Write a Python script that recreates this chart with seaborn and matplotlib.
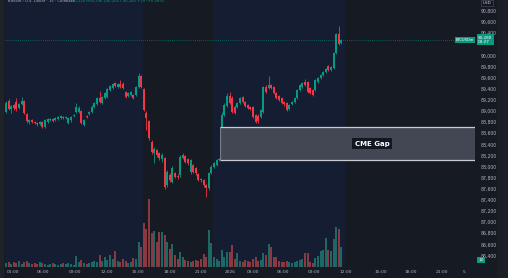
import numpy as np
import pandas as pd
import matplotlib
matplotlib.use("Agg")
import matplotlib.pyplot as plt
import matplotlib.transforms as mtransforms
from matplotlib.patches import Rectangle
import seaborn as sns

# ---------------- data (15-minute BTC candles) ----------------
open_ = [88982, 89180, 89036, 89108, 89162, 89054, 89126, 89180, 88946, 88802,
         88838, 88802, 88784, 88766, 88802, 88712, 88802, 88838, 88856, 88838,
         88856, 88874, 88892, 88874, 88784, 88838, 88910, 88982, 88982, 89000,
         88748, 88910, 88946, 88982, 89072, 89126, 89234, 89144, 89234, 89252,
         89378, 89414, 89504, 89432, 89486, 89486, 89342, 89270, 89288, 89288,
         89288, 89432, 89630, 89396, 88964, 88820, 88442, 88244, 88298, 88244,
         88136, 88154, 87668, 87848, 87722, 87884, 87830, 87848, 88154, 88190,
         88136, 87902, 88028, 87974, 87866, 87776, 87758, 87668, 87614, 87884,
         87992, 88028, 88118, 88118, 88928, 89090, 89270, 89234, 89072, 89072,
         89144, 89252, 89162, 89108, 89072, 89072, 88928, 88910, 88892, 88982,
         89432, 89414, 89468, 89432, 89324, 89270, 89234, 89162, 89144, 89036,
         89126, 89162, 89234, 89378, 89432, 89522, 89522, 89414, 89378, 89378,
         89522, 89594, 89648, 89702, 89810, 89738, 89774, 90044, 90386, 90224]
close = [89144, 89036, 89090, 89054, 89036, 89126, 89180, 88964, 88820, 88838,
         88802, 88784, 88766, 88802, 88712, 88838, 88856, 88856, 88820, 88874,
         88892, 88910, 88874, 88892, 88874, 88892, 88928, 89072, 89054, 88784,
         88838, 88892, 88982, 89072, 89144, 89234, 89162, 89252, 89324, 89396,
         89450, 89486, 89450, 89486, 89432, 89414, 89252, 89324, 89342, 89234,
         89432, 89630, 89432, 89018, 88874, 88514, 88262, 88316, 88208, 88154,
         88208, 87632, 87902, 87758, 87974, 87812, 87812, 88172, 88208, 88082,
         88064, 88118, 87902, 87884, 87758, 87758, 87668, 87614, 87884, 87992,
         88064, 88118, 88136, 88928, 89108, 89270, 89144, 88982, 88964, 89144,
         89234, 89162, 89090, 89054, 89036, 88892, 88802, 88820, 89018, 89432,
         89342, 89468, 89414, 89324, 89234, 89198, 89144, 89126, 89018, 89108,
         89162, 89234, 89378, 89468, 89504, 89468, 89342, 89324, 89288, 89558,
         89594, 89648, 89702, 89756, 89738, 89792, 90044, 90386, 90206, 90280]
high = [89180, 89216, 89108, 89126, 89234, 89144, 89252, 89198, 88964, 88856,
        88856, 88820, 88802, 88820, 88820, 88856, 88874, 88874, 88874, 88892,
        88910, 88928, 88910, 88910, 88892, 88910, 88946, 89144, 89090, 89018,
        88856, 88928, 89000, 89108, 89162, 89252, 89360, 89270, 89342, 89414,
        89468, 89504, 89522, 89504, 89558, 89522, 89360, 89342, 89360, 89306,
        89450, 89684, 89648, 89414, 89000, 88838, 88478, 88352, 88316, 88262,
        88244, 88172, 87938, 87884, 88010, 87902, 87866, 88208, 88244, 88208,
        88154, 88136, 88046, 87992, 87884, 87794, 87776, 87686, 87902, 88028,
        88082, 88136, 88154, 88982, 89144, 89324, 89342, 89270, 89108, 89162,
        89252, 89270, 89180, 89126, 89090, 89090, 88946, 88946, 89036, 89450,
        89468, 89630, 89486, 89450, 89342, 89288, 89252, 89180, 89162, 89126,
        89180, 89252, 89396, 89486, 89522, 89576, 89540, 89432, 89396, 89576,
        89612, 89666, 89720, 89774, 89828, 89810, 90062, 90404, 90530, 90296]
low = [88964, 89018, 88964, 89018, 89000, 89036, 89108, 88946, 88784, 88766,
       88784, 88766, 88730, 88748, 88694, 88694, 88784, 88820, 88802, 88820,
       88838, 88856, 88856, 88856, 88766, 88802, 88900, 88964, 88964, 88766,
       88730, 88874, 88928, 88964, 89054, 89108, 89144, 89126, 89216, 89234,
       89360, 89396, 89432, 89414, 89414, 89396, 89234, 89252, 89270, 89216,
       89270, 89414, 89414, 89000, 88658, 88478, 88226, 88064, 88172, 88118,
       88082, 87596, 87632, 87722, 87704, 87794, 87776, 87812, 88136, 88064,
       88028, 87866, 87884, 87848, 87740, 87722, 87632, 87452, 87578, 87866,
       87974, 88010, 88100, 88100, 88910, 89072, 89126, 88964, 88946, 89054,
       89126, 89144, 89072, 89036, 89018, 88874, 88784, 88784, 88874, 88964,
       89324, 89396, 89396, 89306, 89216, 89180, 89126, 89090, 89000, 89018,
       89108, 89144, 89216, 89360, 89414, 89450, 89324, 89306, 89270, 89360,
       89504, 89576, 89630, 89684, 89720, 89720, 89756, 90026, 90188, 90206]
volume = [40, 50, 30, 50, 40, 60, 30, 50, 60, 40,
          30, 40, 30, 50, 40, 30, 20, 30, 40, 30,
          20, 30, 40, 30, 40, 30, 20, 110, 50, 70,
          40, 30, 40, 50, 60, 50, 120, 60, 100, 70,
          120, 80, 160, 60, 50, 80, 60, 40, 50, 90,
          80, 250, 200, 440, 380, 680, 340, 360, 250, 350,
          350, 320, 250, 180, 230, 120, 80, 150, 100, 70,
          60, 50, 60, 70, 60, 80, 130, 100, 370, 240,
          100, 80, 60, 170, 100, 150, 150, 220, 80, 140,
          60, 50, 70, 60, 50, 80, 100, 60, 70, 140,
          120, 230, 200, 100, 100, 60, 50, 50, 60, 50,
          40, 50, 60, 70, 80, 140, 140, 50, 40, 90,
          110, 160, 170, 290, 170, 160, 280, 400, 380, 200]

time_labels = ["01:00", "06:00", "09:00", "12:00", "15:00", "18:00", "21:00", "2026",
               "03:00", "06:00", "09:00", "12:00", "15:00", "18:00", "21:00", "5"]
time_label_idx = [2.7, 14.2, 26.5, 38.8, 50.8, 63.1, 75.0, 86.2,
                  95.0, 106.5, 118.5, 130.8, 144.2, 155.8, 167.7, 176.2]
price_ticks = list(range(86400, 90801, 200))
last_price = 90280
last_time = "03:27"
gap_top, gap_bottom = 88712, 88118
gap_label = "CME Gap"
title_txt = "Bitcoin / U.S. Dollar · 15 · Coinbase"
ohlc_txt = "O90,224 H90,296 L90,206 C90,280 +74 (+0.08%)"

# ---------------- style ----------------
BG = "#161a22"
BLUE = "#151d33"
UP = "#089981"
DOWN = "#f23645"
UPV = "#1d6864"
DOWNV = "#8a3842"
TXT = "#b2b5be"

sns.set_theme(style="dark", rc={"axes.facecolor": BG, "figure.facecolor": BG})
plt.rcParams["font.family"] = ["DejaVu Sans"]

W, H = 508, 278
fig = plt.figure(figsize=(W / 100, H / 100), dpi=100)
fig.patch.set_facecolor(BG)

rect = [5 / W, 11 / H, 470 / W, 267 / H]
XMIN, XMAX = -0.385, 180.4
YMIN, YMAX = 86192, 90998

idx = np.arange(len(close))
o = np.array(open_, float)
c = np.array(close, float)
hi = np.array(high, float)
lo = np.array(low, float)
up = c >= o

# background / volume axes
axv = fig.add_axes(rect)
axv.set_facecolor(BG)
axv.axvspan(XMIN, 52.7, color=BLUE, lw=0, zorder=0)
axv.axvspan(79.6, 130.4, color=BLUE, lw=0, zorder=0)
df = pd.DataFrame({"i": idx, "vol": volume, "dir": np.where(up, "up", "down")})
sns.barplot(data=df, x="i", y="vol", hue="dir", palette={"up": UPV, "down": DOWNV},
            native_scale=True, dodge=False, width=0.75, saturation=1,
            errorbar=None, legend=False, ax=axv, linewidth=0)
axv.set_xlim(XMIN, XMAX)
axv.set_ylim(0, 2670)
axv.set_axis_off()

# price axes
ax = fig.add_axes(rect, sharex=axv)
ax.patch.set_alpha(0)
cols = np.where(up, UP, DOWN)
ax.vlines(idx, lo, hi, colors=cols, linewidth=0.6, zorder=3)
body_h = np.maximum(np.abs(c - o), 16)
ax.bar(idx, body_h, bottom=np.minimum(o, c), width=0.75, color=cols, linewidth=0, zorder=4)
ax.set_xlim(XMIN, XMAX)
ax.set_ylim(YMIN, YMAX)
for s in ax.spines.values():
    s.set_visible(False)

# last price line
ax.axhline(last_price, color=UP, linestyle=(0, (1, 2)), linewidth=0.5, zorder=2)

# CME gap box
gx0 = 82.3
ax.add_patch(Rectangle((gx0, gap_bottom), XMAX - gx0, gap_top - gap_bottom,
                       facecolor="#454955", edgecolor="none", alpha=0.97, zorder=5))
ax.hlines([gap_top, gap_bottom], gx0, XMAX, colors="#c9cbd1", linewidth=0.9, zorder=6)
ax.vlines([gx0], gap_bottom, gap_top, colors="#9598a1", linewidth=0.5, zorder=6)
ax.text(140.8, (gap_top + gap_bottom) / 2, gap_label, color="white", fontsize=5,
        fontweight="bold", ha="center", va="center", zorder=7,
        bbox=dict(boxstyle="square,pad=0.35", fc="#131722", ec="none"))

# axes ticks (the label hidden behind the last-price tag is left blank)
ax.yaxis.tick_right()
ax.set_yticks(price_ticks)
ax.set_yticklabels(["" if abs(p - last_price) < 100 else f"{p:,}" for p in price_ticks])
ax.tick_params(axis="y", length=0, pad=4, labelsize=3.3, labelcolor=TXT)
ax.set_xticks(time_label_idx)
ax.set_xticklabels(time_labels)
ax.tick_params(axis="x", length=0, pad=2.2, labelsize=3.2, labelcolor=TXT)
ax.grid(False)

# price tag
trans = mtransforms.blended_transform_factory(ax.transAxes, ax.transData)
ax.text(1.0 + 3 / 470, last_price, f"{last_price:,}\n{last_time}", transform=trans,
        fontsize=3.0, color="white", ha="left", va="center", linespacing=1.1,
        clip_on=False, zorder=20,
        bbox=dict(boxstyle="square,pad=0.3", fc=UP, ec="none"))
ax.text(1.0 - 1 / 470, last_price, "BTCUSDm", transform=trans, fontsize=2.6,
        color="white", ha="right", va="center", clip_on=False, zorder=20,
        bbox=dict(boxstyle="square,pad=0.3", fc=UP, ec="none"))

# USD box and bottom tag
fig.text(487 / W, 1 - 3 / H, "USD", fontsize=3.0, color="#d1d4dc", ha="center", va="center",
         bbox=dict(boxstyle="square,pad=0.3", fc="#131722", ec="#50535e", lw=0.4))
fig.text(481 / W, 1 - 260 / H, "1D", fontsize=2.8, color="white", ha="center", va="center",
         bbox=dict(boxstyle="square,pad=0.3", fc=UP, ec="none"))

# title line
fig.text(8 / W, 1 - 1.5 / H, title_txt, fontsize=2.7, color=TXT, ha="left", va="center")
fig.text(69 / W, 1 - 1.5 / H, ohlc_txt, fontsize=2.7, color=UP, ha="left", va="center")

# side strips
fig.patches.append(Rectangle((0, 0), 4 / W, 1, transform=fig.transFigure,
                             facecolor="#1f2229", edgecolor="none", zorder=-1))
fig.patches.append(Rectangle((497 / W, 0), 11 / W, 1, transform=fig.transFigure,
                             facecolor="#1b1e26", edgecolor="none", zorder=-1))

fig.savefig("out.png", dpi=100, facecolor=BG)
